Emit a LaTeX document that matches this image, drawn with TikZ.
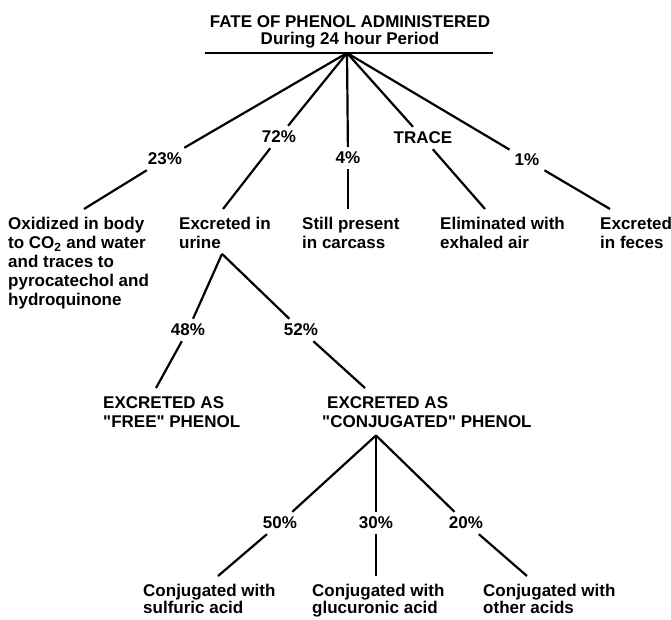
\documentclass[tikz,border=0pt]{standalone}
\usepackage{fontspec}
\setmainfont{Liberation Sans}
\usetikzlibrary{calc}

\begin{document}
\begin{tikzpicture}[x={(1pt,0pt)},y={(0pt,-1pt)},
  every node/.style={font=\bfseries\fontsize{17}{19}\selectfont},
  pct/.style={inner sep=5pt},
  lbl/.style={anchor=north west,align=left,inner xsep=0pt,inner ysep=8pt},
  link/.style={line width=2.2pt}]
  \useasboundingbox (0,0) rectangle (671,619);
  % Title with rule
  \node[anchor=north,align=center,inner sep=0pt] (title) at (350,15)
       {FATE OF PHENOL ADMINISTERED\\[-2pt]During 24 hour Period};
  \coordinate (rulel) at (205,53);
  \coordinate (ruler) at (493,53);
  \coordinate (hub) at (347,53);
  \draw[line width=1.6pt] (rulel) -- (ruler);
  % First split
  \node[pct] (p23) at (165,159) {23\%};
  \node[pct] (p72) at (279,137) {72\%};
  \node[pct] (p4) at (348,158) {4\%};
  \node[pct] (trace) at (423,138) {TRACE};
  \node[pct] (p1) at (527,160) {1\%};
  \node[lbl] (oxid) at (8,209) {Oxidized in body\\to CO\textsubscript{2} and water\\and traces to\\pyrocatechol and\\hydroquinone};
  \node[lbl] (urine) at (179,209) {Excreted in\\urine};
  \node[lbl] (carcass) at (302,209) {Still present\\in carcass};
  \node[lbl] (air) at (440,209) {Eliminated with\\exhaled air};
  \node[lbl] (feces) at (600,209) {Excreted\\in feces};
  \foreach \p in {p23,p72,p4,trace,p1}
    \draw[link] (hub) -- (\p);
  \draw[link] (p23) -- ([xshift=76pt]oxid.north west);
  \draw[link] (p72) -- ([xshift=44pt]urine.north west);
  \draw[link] (p4) -- (p4 |- carcass.north);
  \draw[link] (trace) -- ([xshift=45pt]air.north west);
  \draw[link] (p1) -- ([xshift=10pt]feces.north west);
  % Urine: free / conjugated
  \coordinate (fork1) at ([xshift=-3pt,yshift=3pt]urine.south);
  \node[pct] (p48) at (188,330) {48\%};
  \node[pct] (p52) at (301,330) {52\%};
  \node[lbl] (free) at (103,388) {EXCRETED AS\\\textquotedbl FREE\textquotedbl{} PHENOL};
  \node[lbl] (conj) at (327,388) {EXCRETED AS\\\hspace*{-5pt}\textquotedbl CONJUGATED\textquotedbl{} PHENOL};
  \draw[link] (fork1) -- (p48);
  \draw[link] (fork1) -- (p52);
  \draw[link] (p48) -- ([xshift=53pt]free.north west);
  \draw[link] (p52) -- ([xshift=38pt]conj.north west);
  % Conjugates
  \node[pct] (p50) at (280,523) {50\%};
  \node[pct] (p30) at (376,523) {30\%};
  \node[pct] (p20) at (466,523) {20\%};
  \coordinate (fork2) at (p30 |- conj.south);
  \node[lbl] (sulf) at (143,576) {Conjugated with\\[-2pt]sulfuric acid};
  \node[lbl] (gluc) at (312,576) {Conjugated with\\[-2pt]glucuronic acid};
  \node[lbl] (other) at (483,576) {Conjugated with\\[-2pt]other acids};
  \foreach \p in {p50,p30,p20}
    \draw[link] (fork2) -- (\p);
  \draw[link] (p50) -- ([xshift=75pt]sulf.north west);
  \draw[link] (p30) -- (p30 |- gluc.north);
  \draw[link] (p20) -- ([xshift=44pt]other.north west);
\end{tikzpicture}
\end{document}
